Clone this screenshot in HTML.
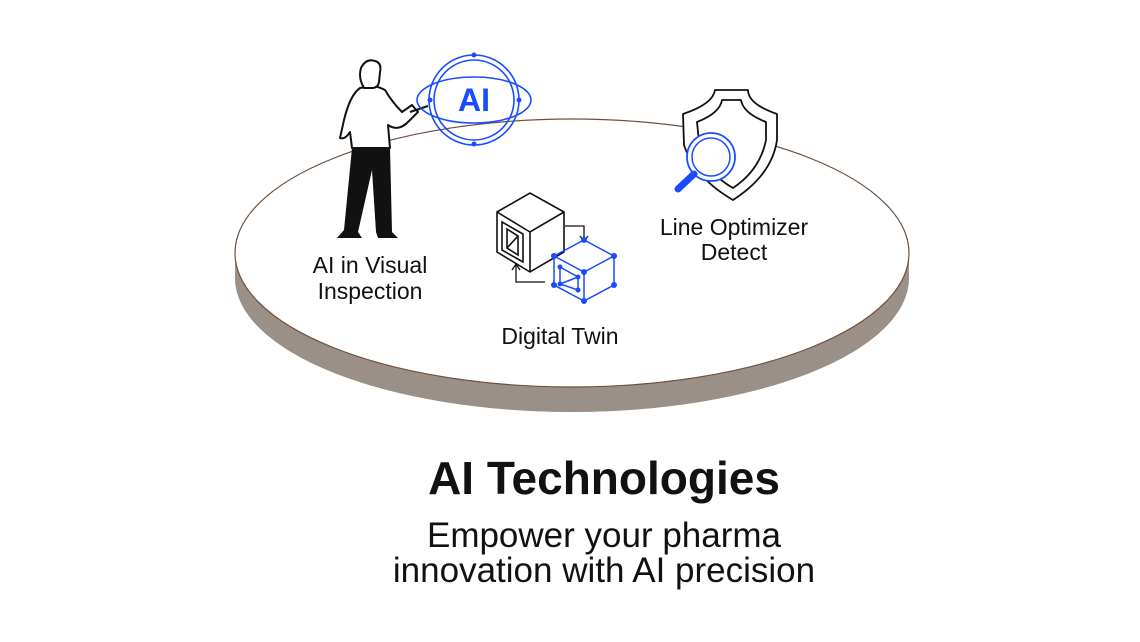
<!DOCTYPE html>
<html><head><meta charset="utf-8"><style>
html,body{margin:0;padding:0;background:#fff;}
body{width:1140px;height:642px;overflow:hidden;position:relative;font-family:"Liberation Sans",sans-serif;}
</style></head><body>
<svg width="1140" height="642" style="position:absolute;left:0;top:0" font-family="Liberation Sans, sans-serif">
<path d="M235,253 L235,278 A337,134 0 0 0 909,278 L909,253 Z" fill="#a0968c"/>
<ellipse cx="572" cy="278" rx="337" ry="134" fill="#9b9087"/>
<ellipse cx="572" cy="253" rx="337" ry="134" fill="#fff" stroke="#6b5040" stroke-width="1.2"/>
<g stroke="#111" stroke-width="2" fill="#fff" stroke-linejoin="round">
<path d="M360,88 Q350,95 344,120 L340,138 Q345,140 350,132 L352,148 L390,148 L388,125 Q398,132 408,122 L418,112 L412,105 L402,112 Q392,102 385,90 Q377,86 372,86 Z"/>
<path d="M364,88 Q358,78 361,68 Q366,58 375,61 Q382,63 380,72 L379,82 Q378,88 372,88 Z"/>
<path d="M410,112 L428,106" fill="none"/>
</g>
<path d="M352,148 L390,148 L392,232 L398,238 L378,238 L376,232 L372,170 L358,232 L362,238 L337,238 L344,230 Z" fill="#111"/>
<g stroke="#1a4cff" stroke-width="1.6" fill="none">
<circle cx="474" cy="100" r="45"/>
<circle cx="474" cy="100" r="40"/>
<ellipse cx="474" cy="100" rx="57" ry="23"/>
</g>
<g fill="#1a4cff"><circle cx="474" cy="55" r="2.5"/><circle cx="474" cy="144" r="2.5"/><circle cx="430" cy="100" r="2.5"/><circle cx="519" cy="100" r="2.5"/></g>
<text x="474" y="111" text-anchor="middle" font-weight="bold" font-size="32" fill="#1a4cff">AI</text>
<g stroke="#111" stroke-width="1.8" fill="#fff" stroke-linejoin="round">
<path d="M715,90 L748,90 Q748,104 777,114 L777,140 Q772,175 733,200 Q695,178 684,145 L683,114 Q713,104 715,90 Z"/>
<path d="M722,100 L741,100 Q743,113 766,122 L766,140 Q760,170 733,188 Q710,175 700,152 L697,122 Q720,113 722,100 Z" fill="none"/>
</g>
<circle cx="711" cy="157" r="24" fill="#fff" stroke="#1a4cff" stroke-width="1.8"/>
<circle cx="711" cy="157" r="19" fill="none" stroke="#1a4cff" stroke-width="1.5"/>
<line x1="694" y1="174" x2="678" y2="189" stroke="#1a4cff" stroke-width="7" stroke-linecap="round"/>
<g stroke="#111" stroke-width="1.6" fill="#fff">
<path d="M497,212 L530,193 L564,212 L564,252 L530,272 L497,252 Z"/>
<path d="M497,212 L530,232 L564,212 M530,232 L530,272" fill="none"/>
<path d="M502,222 L523,234 L523,262 L502,250 Z" fill="none"/>
<path d="M507,229 L518,236 L518,255 L507,248 Z M507,248 L518,236" fill="none"/>
</g>
<path d="M565,226 L584,226 L584,240 M580,236 L584,241 L588,236" fill="none" stroke="#111" stroke-width="1.3"/>
<path d="M545,282 L516,282 L516,265 M512,270 L516,264 L520,270" fill="none" stroke="#111" stroke-width="1.3"/>
<g stroke="#1a4cff" stroke-width="1.5" fill="none">
<path d="M554,256 L584,240 L614,256 L614,285 L584,301 L554,285 Z M554,256 L584,272 L614,256 M584,272 L584,301"/>
<path d="M560,267 L578,277 L578,290 M560,267 L560,284 L578,290 M560,284 L578,277"/>
</g>
<g fill="#1a4cff"><circle cx="554" cy="256" r="3"/><circle cx="584" cy="240" r="3"/><circle cx="614" cy="256" r="3"/><circle cx="614" cy="285" r="3"/><circle cx="584" cy="301" r="3"/><circle cx="554" cy="285" r="3"/><circle cx="584" cy="272" r="3"/><circle cx="560" cy="267" r="2.5"/><circle cx="578" cy="290" r="2.5"/><circle cx="560" cy="284" r="2.5"/><circle cx="578" cy="277" r="2.5"/></g>
<g fill="#111" font-size="23" text-anchor="middle">
<text x="370" y="273">AI in Visual</text>
<text x="370" y="299">Inspection</text>
<text x="734" y="235">Line Optimizer</text>
<text x="734" y="260">Detect</text>
<text x="560" y="344">Digital Twin</text>
</g>
<text x="604" y="494" text-anchor="middle" font-size="46" font-weight="bold" fill="#111">AI Technologies</text>
<g fill="#111" font-size="35" text-anchor="middle">
<text x="604" y="547">Empower your pharma</text>
<text x="604" y="582">innovation with AI precision</text>
</g>
</svg>
</body></html>
